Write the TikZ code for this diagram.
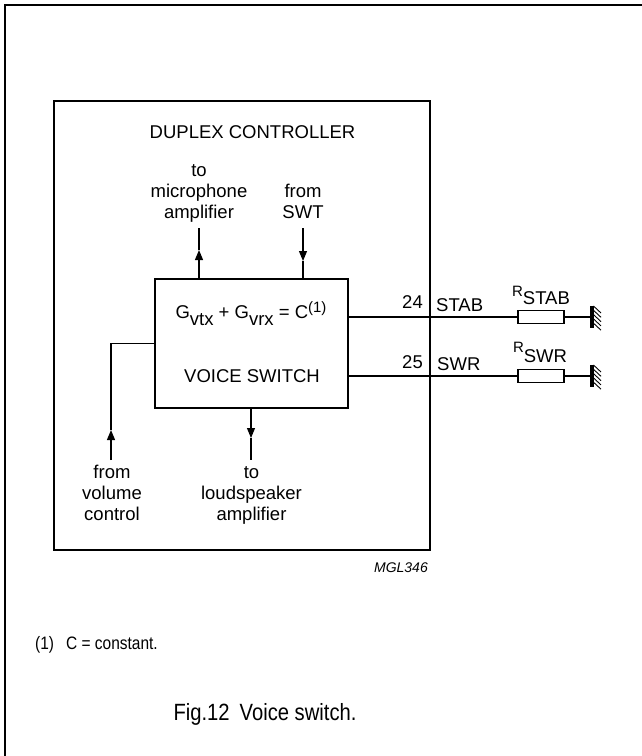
\documentclass[tikz,border=0pt]{standalone}
\usepackage{fontspec}
\setmainfont{Liberation Sans}
\newfontfamily\narrowfont[FakeStretch=0.86]{Liberation Sans}
\usetikzlibrary{arrows.meta}
\tikzset{
  lbl/.style={font=\fontsize{18.5}{20.7}\selectfont, inner sep=0pt, align=center},
  conn/.style={line width=1.1pt},
  arr/.style={conn,-{Triangle[length=10pt,width=8pt]}},
  boxthick/.style={draw, line width=2.2pt, inner sep=0pt},
  resbox/.style={draw, line width=1.1pt, minimum width=46pt, minimum height=13pt, inner sep=0pt},
  gnd/.pic={
    \draw[line width=3.5pt] (0,-11) -- (0,11);
    \foreach \k in {0,...,4} \draw[line width=0.9pt] (1.5,-11+4.3*\k) -- (9,-4+4.3*\k);
  }
}
\begin{document}
\begin{tikzpicture}[x=1pt,y=-1pt]
\useasboundingbox (0,0) rectangle (642,756);
% outer frame (top and left only)
\draw[line width=1.5pt] (5,756) -- (5,5) -- (642,5);

% boxes
\node[boxthick, minimum width=376pt, minimum height=449pt] (dc) at (242,325.5) {};
\node[boxthick, minimum width=193pt, minimum height=129pt] (vs) at (251.5,343.5) {};

% texts
\node[lbl, anchor=base] (dctext) at (252.5,138) {DUPLEX CONTROLLER};
\node[lbl, anchor=base] (eq) at (251,318) {G\raisebox{-7pt}{vtx} + G\raisebox{-7pt}{vrx} = C\raisebox{6pt}{\fontsize{15}{15}\selectfont(1)}};
\node[lbl, anchor=base] (vstext) at (252,382) {VOICE SWITCH};

\node[lbl, anchor=base] (mic) at (199,218) {to\\microphone\\amplifier};
\node[lbl, anchor=base] (swt) at (303,218) {from\\SWT};
\node[lbl, anchor=base] (vol) at (112,520) {from\\volume\\control};
\node[lbl, anchor=base] (ls) at (251.5,520) {to\\loudspeaker\\amplifier};

% arrows
\coordinate (micT) at (199,250);
\coordinate (micE) at (199,228);
\draw[arr] (vs.north -| micT) -- (micT);
\draw[conn] (micT) -- (micE);

\coordinate (swtS) at (303,228);
\coordinate (swtT) at (303,261);
\draw[arr] (swtS) -- (swtT);
\draw[conn] (swtT) -- (vs.north -| swtT);

\coordinate (volE) at (111,460);
\coordinate (volT) at (111,430);
\draw[arr] (volE) -- (volT);
\draw[conn] (volT) -- (vs.west -| volT) -- (vs.west);

\coordinate (lsT) at (251,438);
\coordinate (lsE) at (251,460);
\draw[arr] (vs.south -| lsT) -- (lsT);
\draw[conn] (lsT) -- (lsE);

% pins
\node[resbox] (rstab) at (541,317) {};
\node[resbox] (rswr) at (541,376) {};
\coordinate (g1) at (592,317);
\coordinate (g2) at (592,376);
\draw[conn] (vs.east |- rstab) -- (rstab.west);
\draw[conn] (rstab.east) -- (g1);
\draw[conn] (vs.east |- rswr) -- (rswr.west);
\draw[conn] (rswr.east) -- (g2);
\pic at (g1) {gnd};
\pic at (g2) {gnd};

\node[lbl, anchor=base east] (p24) at (423,308) {24};
\node[lbl, anchor=base west] (stab) at (436,311) {STAB};
\node[lbl, anchor=base east] (p25) at (423,368) {25};
\node[lbl, anchor=base west] (swr) at (437,370) {SWR};

\node[lbl, anchor=base] (rstablbl) at (541,296) {\fontsize{15}{15}\selectfont R\raisebox{-8pt}{\fontsize{18.5}{20}\selectfont STAB}};
\node[lbl, anchor=base] (rswrlbl) at (540,352) {\fontsize{15}{15}\selectfont R\raisebox{-10pt}{\fontsize{18.5}{20}\selectfont SWR}};

\node[inner sep=0pt, anchor=base east, font=\fontsize{14}{16}\selectfont\itshape] (mgl) at (428,572) {MGL346};

\node[inner sep=0pt, anchor=base west, font=\narrowfont\fontsize{18}{20}\selectfont] (fn) at (35,649) {(1)\hspace{12pt}C = constant.};
\node[inner sep=0pt, anchor=base, font=\narrowfont\fontsize{23.5}{26}\selectfont] (fig) at (265,720) {Fig.12\hspace{10pt}Voice switch.};
\end{tikzpicture}
\end{document}
